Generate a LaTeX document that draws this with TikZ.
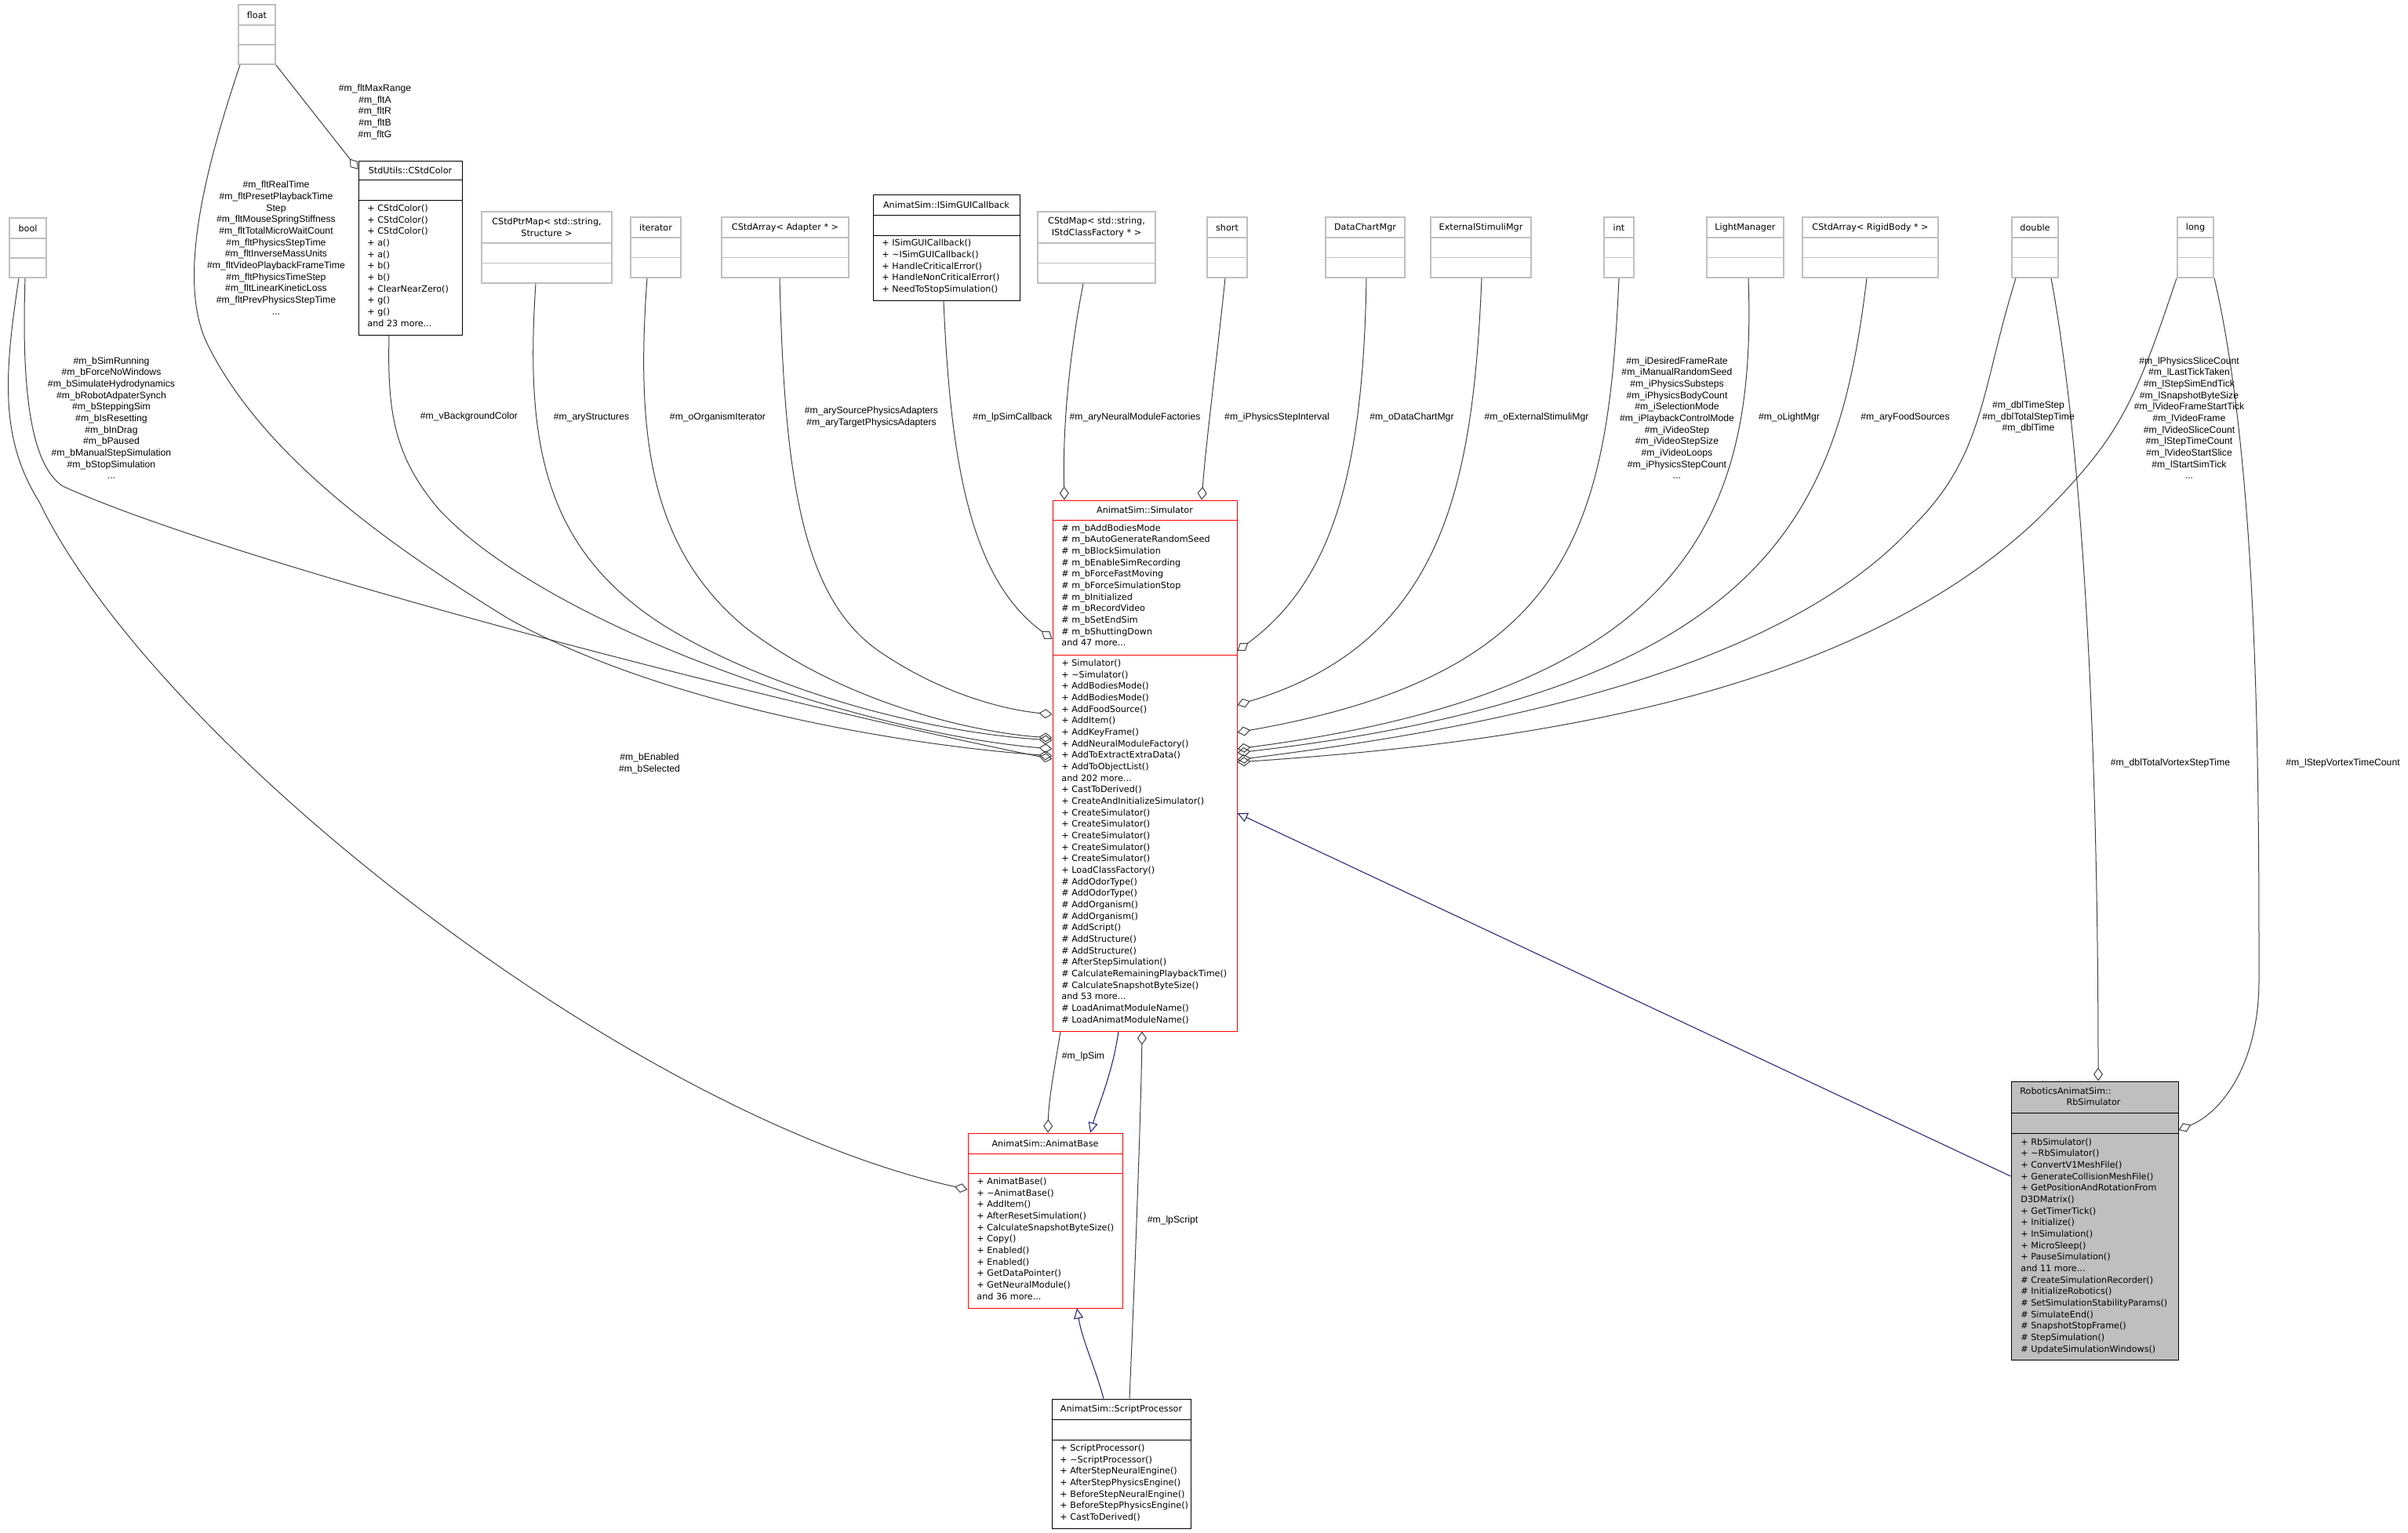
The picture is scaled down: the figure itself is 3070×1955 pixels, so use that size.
\documentclass[tikz,border=0pt]{standalone}
\usepackage{fontspec}
\setmainfont{DejaVu Sans}
\newfontfamily\lblfont{Liberation Sans}
\usepackage{tikz}
\usetikzlibrary{arrows.meta,positioning,fit,calc}
\definecolor{edgec}{RGB}{64,64,64}
\definecolor{frame}{RGB}{191,191,191}
\definecolor{inher}{RGB}{25,25,112}
\definecolor{trunc}{RGB}{255,0,0}
\newcommand{\boxfont}{\fontsize{5.6}{7.33}\selectfont}
\newcommand{\edgefont}{\lblfont\fontsize{6.1}{7.33}\selectfont}

\begin{document}
\begin{tikzpicture}[x=0.5pt, y=-0.5pt,
  cls/.style={draw=black, inner sep=0pt, line width=0.5pt},
  typ/.style={draw=frame, inner sep=0pt, line width=0.75pt},
  hdr/.style={font=\boxfont, inner sep=0pt, align=center},
  mem/.style={font=\boxfont, inner sep=0pt, align=left, anchor=north west,
    execute at begin node={\rule{0pt}{5pt}}},
  lbl/.style={font=\edgefont, inner sep=0pt, align=center},
  agg/.style={draw=edgec, line width=0.5pt, -{Diamond[open, length=8.5pt, width=6pt]}},
  isa/.style={draw=inher, line width=0.5pt, -{Triangle[open, length=6.5pt, width=6pt]}}]
\useasboundingbox (0,0) rectangle (3070,1955);

% plain member types
\foreach \nm/\xa/\ya/\xb/\yb/\hh/\txt in {
  tfloat/304/6/351/82/26/float,
  tbool/12/278/59/354/26/bool,
  tptrmap/614/270/780/361/40/{CStdPtrMap< std::string,\\Structure >},
  titer/804/277/868/354/26/iterator,
  tadapt/920/277/1082/354/26/{CStdArray< Adapter * >},
  tclsmap/1323/270/1473/361/40/{CStdMap< std::string,\\IStdClassFactory * >},
  tshort/1539/277/1590/354/26/short,
  tchart/1690/277/1791/354/26/DataChartMgr,
  tstim/1824/277/1952/354/26/ExternalStimuliMgr,
  tint/2045/277/2083/354/26/int,
  tlight/2176/277/2274/354/26/LightManager,
  trigid/2298/277/2471/354/26/{CStdArray< RigidBody * >},
  tdouble/2565/277/2624/354/26/double,
  tlong/2776/277/2822/354/26/long}
{
  \node[typ, fit={(\xa,\ya) (\xb,\yb)}] (\nm) {};
  \pgfmathsetmacro{\ys}{\ya+\hh}
  \pgfmathsetmacro{\yt}{(\ya+\hh+\yb)/2}
  \draw[frame, line width=0.75pt] (\nm.west |- 0,\ys) -- (\nm.east |- 0,\ys)
    (\nm.west |- 0,\yt) -- (\nm.east |- 0,\yt);
  \node[hdr] (\nm-t) at ($(\xa,\ya)!0.5!(\xb,\ys)$) {\txt};
}

% StdUtils::CStdColor
\node[cls, fit={(457,205) (589,427)}] (col) {};
\draw[line width=0.5pt] (col.west |- 0,229) -- (col.east |- 0,229) (col.west |- 0,255) -- (col.east |- 0,255);
\node[hdr] (col-t) at (523,217) {StdUtils::CStdColor};
\node[mem] (col-m) at (468,260.7) {+ CStdColor()\\+ CStdColor()\\+ CStdColor()\\+ a()\\+ a()\\+ b()\\+ b()\\+ ClearNearZero()\\+ g()\\+ g()\\and 23 more...};

% AnimatSim::ISimGUICallback
\node[cls, fit={(1113,248) (1300,383)}] (cb) {};
\draw[line width=0.5pt] (cb.west |- 0,274) -- (cb.east |- 0,274) (cb.west |- 0,300) -- (cb.east |- 0,300);
\node[hdr] (cb-t) at (1206.5,261) {AnimatSim::ISimGUICallback};
\node[mem] (cb-m) at (1124,305) {+ ISimGUICallback()\\+ \textasciitilde ISimGUICallback()\\+ HandleCriticalError()\\+ HandleNonCriticalError()\\+ NeedToStopSimulation()};

% AnimatSim::Simulator
\node[cls, draw=trunc, fit={(1342,638) (1577,1315)}] (sim) {};
\draw[trunc, line width=0.5pt] (sim.west |- 0,663) -- (sim.east |- 0,663) (sim.west |- 0,835) -- (sim.east |- 0,835);
\node[hdr] (sim-t) at (1459.5,650.5) {AnimatSim::Simulator};
\node[mem] (sim-a) at (1353,668.3) {\# m\_bAddBodiesMode\\\# m\_bAutoGenerateRandomSeed\\\# m\_bBlockSimulation\\\# m\_bEnableSimRecording\\\# m\_bForceFastMoving\\\# m\_bForceSimulationStop\\\# m\_bInitialized\\\# m\_bRecordVideo\\\# m\_bSetEndSim\\\# m\_bShuttingDown\\and 47 more...};
\node[mem] (sim-m) at (1353,840.7) {+ Simulator()\\+ \textasciitilde Simulator()\\+ AddBodiesMode()\\+ AddBodiesMode()\\+ AddFoodSource()\\+ AddItem()\\+ AddKeyFrame()\\+ AddNeuralModuleFactory()\\+ AddToExtractExtraData()\\+ AddToObjectList()\\and 202 more...\\+ CastToDerived()\\+ CreateAndInitializeSimulator()\\+ CreateSimulator()\\+ CreateSimulator()\\+ CreateSimulator()\\+ CreateSimulator()\\+ CreateSimulator()\\+ LoadClassFactory()\\\# AddOdorType()\\\# AddOdorType()\\\# AddOrganism()\\\# AddOrganism()\\\# AddScript()\\\# AddStructure()\\\# AddStructure()\\\# AfterStepSimulation()\\\# CalculateRemainingPlaybackTime()\\\# CalculateSnapshotByteSize()\\and 53 more...\\\# LoadAnimatModuleName()\\\# LoadAnimatModuleName()};

% RoboticsAnimatSim::RbSimulator
\node[cls, fill=frame, fit={(2564,1379) (2777,1734)}] (rb) {};
\draw[line width=0.5pt] (rb.west |- 0,1419) -- (rb.east |- 0,1419) (rb.west |- 0,1445) -- (rb.east |- 0,1445);
\node[hdr, anchor=west] (rb-t1) at (2575,1391.7) {RoboticsAnimatSim::};
\node[hdr] (rb-t2) at (2669,1405) {RbSimulator};
\node[mem] (rb-m) at (2576,1451.3) {+ RbSimulator()\\+ \textasciitilde RbSimulator()\\+ ConvertV1MeshFile()\\+ GenerateCollisionMeshFile()\\+ GetPositionAndRotationFrom\\D3DMatrix()\\+ GetTimerTick()\\+ Initialize()\\+ InSimulation()\\+ MicroSleep()\\+ PauseSimulation()\\and 11 more...\\\# CreateSimulationRecorder()\\\# InitializeRobotics()\\\# SetSimulationStabilityParams()\\\# SimulateEnd()\\\# SnapshotStopFrame()\\\# StepSimulation()\\\# UpdateSimulationWindows()};

% AnimatSim::AnimatBase
\node[cls, draw=trunc, fit={(1234,1445) (1431,1668)}] (base) {};
\draw[trunc, line width=0.5pt] (base.west |- 0,1471) -- (base.east |- 0,1471) (base.west |- 0,1496) -- (base.east |- 0,1496);
\node[hdr] (base-t) at (1332.5,1458) {AnimatSim::AnimatBase};
\node[mem] (base-m) at (1245,1501.7) {+ AnimatBase()\\+ \textasciitilde AnimatBase()\\+ AddItem()\\+ AfterResetSimulation()\\+ CalculateSnapshotByteSize()\\+ Copy()\\+ Enabled()\\+ Enabled()\\+ GetDataPointer()\\+ GetNeuralModule()\\and 36 more...};

% AnimatSim::ScriptProcessor
\node[cls, fit={(1341,1784) (1518,1949)}] (script) {};
\draw[line width=0.5pt] (script.west |- 0,1810) -- (script.east |- 0,1810) (script.west |- 0,1836) -- (script.east |- 0,1836);
\node[hdr] (script-t) at (1429.5,1797) {AnimatSim::ScriptProcessor};
\node[mem] (script-m) at (1351,1841.7) {+ ScriptProcessor()\\+ \textasciitilde ScriptProcessor()\\+ AfterStepNeuralEngine()\\+ AfterStepPhysicsEngine()\\+ BeforeStepNeuralEngine()\\+ BeforeStepPhysicsEngine()\\+ CastToDerived()};

% aggregations, left side
\draw[agg] (tfloat.south east) -- (col.west |- 0,216);
\draw[agg] (306,0 |- tfloat.south) .. controls (260,220) and (225,360) .. (265,440)
  .. controls (330,570) and (470,680) .. (650,790)
  .. controls (850,900) and (1150,950) .. (sim.west |- 0,964);
\draw[agg] (32,0 |- tbool.south) .. controls (28,480) and (35,590) .. (80,620)
  .. controls (300,720) and (1000,900) .. (sim.west |- 0,968);
\draw[agg] (24,0 |- tbool.south) .. controls (5,480) and (0,560) .. (50,640)
  .. controls (200,950) and (800,1420) .. (base.west |- 0,1517);
\draw[agg] (496,0 |- col.south) .. controls (494,520) and (500,580) .. (560,650)
  .. controls (700,800) and (1100,935) .. (sim.west |- 0,955);
\draw[agg] (683,0 |- tptrmap.south) .. controls (670,560) and (690,700) .. (850,800)
  .. controls (1000,890) and (1200,935) .. (sim.west |- 0,944);
\draw[agg] (825,0 |- titer.south) .. controls (810,560) and (830,700) .. (950,800)
  .. controls (1080,900) and (1250,935) .. (sim.west |- 0,941);
\draw[agg] (994,0 |- tadapt.south) .. controls (1000,600) and (1020,760) .. (1120,830)
  .. controls (1200,885) and (1280,905) .. (sim.west |- 0,911);
\draw[agg] (1203,0 |- cb.south) .. controls (1212,600) and (1240,740) .. (sim.west |- 0,815);
\draw[agg] (1381,0 |- tclsmap.south) .. controls (1360,470) and (1355,560) .. (1357,0 |- sim.north);
\draw[agg] (1562,0 |- tshort.south) .. controls (1550,470) and (1538,560) .. (1532,0 |- sim.north);

% aggregations, right side
\draw[agg] (1742,0 |- tchart.south) .. controls (1738,600) and (1700,740) .. (sim.east |- 0,830);
\draw[agg] (1889,0 |- tstim.south) .. controls (1878,620) and (1840,820) .. (sim.east |- 0,899);
\draw[agg] (2064,0 |- tint.south) .. controls (2050,680) and (2000,860) .. (sim.east |- 0,934);
\draw[agg] (2229,0 |- tlight.south) .. controls (2240,660) and (2150,880) .. (sim.east |- 0,955);
\draw[agg] (2380,0 |- trigid.south) .. controls (2345,640) and (2270,880) .. (sim.east |- 0,960);
\draw[agg] (2570,0 |- tdouble.south) .. controls (2525,500) and (2530,580) .. (2440,670)
  .. controls (2250,880) and (1800,940) .. (sim.east |- 0,969);
\draw[agg] (2775,0 |- tlong.south) .. controls (2720,520) and (2700,560) .. (2600,660)
  .. controls (2350,900) and (1900,950) .. (sim.east |- 0,972);
\draw[agg] (2615,0 |- tdouble.south) .. controls (2660,600) and (2675,1000) .. (2675,0 |- rb.north);
\draw[agg] (2823,0 |- tlong.south) .. controls (2880,600) and (2880,1000) .. (2880,1250)
  .. controls (2880,1360) and (2830,1420) .. (rb.east |- 0,1441);

% around AnimatBase
\draw[agg] (1352,0 |- sim.south) .. controls (1345,1360) and (1337,1400) .. (1336,0 |- base.north);
\draw[agg] (1440,0 |- script.north) .. controls (1448,1600) and (1455,1400) .. (1456,0 |- sim.south);
\draw[isa] (1426,0 |- sim.south) .. controls (1418,1370) and (1400,1410) .. (1390,0 |- base.north);
\draw[isa] (1407,0 |- script.north) .. controls (1395,1740) and (1380,1710) .. (1373,0 |- base.south);
\draw[isa] (rb.west |- 0,1500) -- (sim.east |- 0,1037);

% edge labels
\node[lbl] (l-col) at (478,142.5) {\#m\_fltMaxRange\\\#m\_fltA\\\#m\_fltR\\\#m\_fltB\\\#m\_fltG};
\node[lbl] (l-flt) at (352,316) {\#m\_fltRealTime\\\#m\_fltPresetPlaybackTime\\Step\\\#m\_fltMouseSpringStiffness\\\#m\_fltTotalMicroWaitCount\\\#m\_fltPhysicsStepTime\\\#m\_fltInverseMassUnits\\\#m\_fltVideoPlaybackFrameTime\\\#m\_fltPhysicsTimeStep\\\#m\_fltLinearKineticLoss\\\#m\_fltPrevPhysicsStepTime\\...};
\node[lbl] (l-bool) at (142,533) {\#m\_bSimRunning\\\#m\_bForceNoWindows\\\#m\_bSimulateHydrodynamics\\\#m\_bRobotAdpaterSynch\\\#m\_bSteppingSim\\\#m\_bIsResetting\\\#m\_bInDrag\\\#m\_bPaused\\\#m\_bManualStepSimulation\\\#m\_bStopSimulation\\...};
\node[lbl] (l-bg) at (598,531) {\#m\_vBackgroundColor};
\node[lbl] (l-struct) at (754,532) {\#m\_aryStructures};
\node[lbl] (l-iter) at (915,532) {\#m\_oOrganismIterator};
\node[lbl] (l-adapt) at (1111,532) {\#m\_arySourcePhysicsAdapters\\\#m\_aryTargetPhysicsAdapters};
\node[lbl] (l-cb) at (1291,532) {\#m\_lpSimCallback};
\node[lbl] (l-fact) at (1447,532) {\#m\_aryNeuralModuleFactories};
\node[lbl] (l-short) at (1628,532) {\#m\_iPhysicsStepInterval};
\node[lbl] (l-chart) at (1800,532) {\#m\_oDataChartMgr};
\node[lbl] (l-stim) at (1959,532) {\#m\_oExternalStimuliMgr};
\node[lbl] (l-int) at (2138,533) {\#m\_iDesiredFrameRate\\\#m\_iManualRandomSeed\\\#m\_iPhysicsSubsteps\\\#m\_iPhysicsBodyCount\\\#m\_iSelectionMode\\\#m\_iPlaybackControlMode\\\#m\_iVideoStep\\\#m\_iVideoStepSize\\\#m\_iVideoLoops\\\#m\_iPhysicsStepCount\\...};
\node[lbl] (l-light) at (2281,532) {\#m\_oLightMgr};
\node[lbl] (l-food) at (2429,532) {\#m\_aryFoodSources};
\node[lbl] (l-dbl) at (2586,532) {\#m\_dblTimeStep\\\#m\_dblTotalStepTime\\\#m\_dblTime};
\node[lbl] (l-long) at (2791,533) {\#m\_lPhysicsSliceCount\\\#m\_lLastTickTaken\\\#m\_lStepSimEndTick\\\#m\_lSnapshotByteSize\\\#m\_lVideoFrameStartTick\\\#m\_lVideoFrame\\\#m\_lVideoSliceCount\\\#m\_lStepTimeCount\\\#m\_lVideoStartSlice\\\#m\_lStartSimTick\\...};
\node[lbl] (l-vortex) at (2767,973) {\#m\_dblTotalVortexStepTime};
\node[lbl] (l-vcount) at (2987,973) {\#m\_lStepVortexTimeCount};
\node[lbl] (l-enab) at (828,974) {\#m\_bEnabled\\\#m\_bSelected};
\node[lbl] (l-sim) at (1381,1347) {\#m\_lpSim};
\node[lbl] (l-script) at (1495,1556) {\#m\_lpScript};
\end{tikzpicture}
\end{document}
